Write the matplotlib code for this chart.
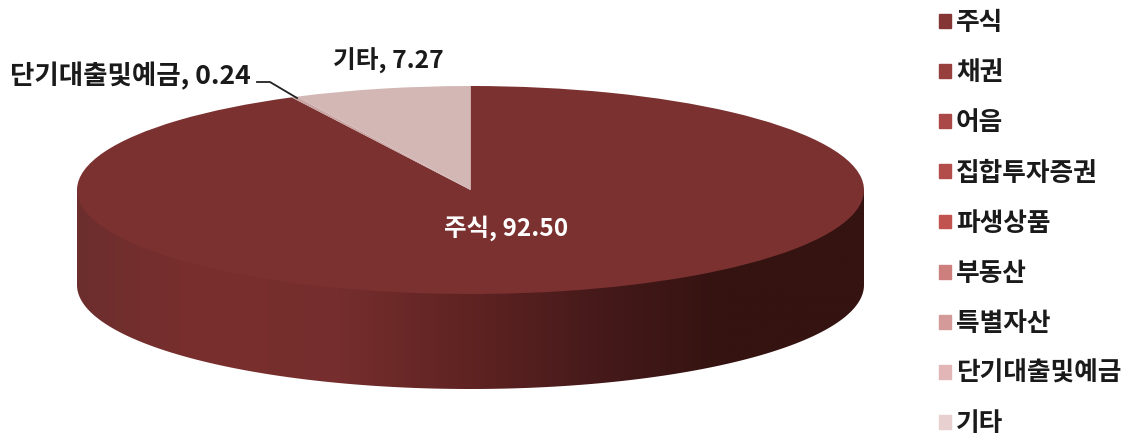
import matplotlib
matplotlib.use("Agg")
import matplotlib.pyplot as plt
import matplotlib.patches as mpatches
from matplotlib.colors import LinearSegmentedColormap
import numpy as np

plt.rcParams['font.family'] = ['Noto Sans CJK KR', 'DejaVu Sans']

categories = ['주식', '채권', '어음', '집합투자증권', '파생상품', '부동산', '특별자산', '단기대출및예금', '기타']
values = [92.50, 0, 0, 0, 0, 0, 0, 0.24, 7.27]
legend_colors = ['#843634', '#963f3d', '#a94846', '#b34d4b', '#c2544f', '#cc7f7d', '#d49a99', '#e2b6b6', '#e8cfd0']
pie_colors = ['#7b3130', '#8a3a38', '#9a4341', '#a24745', '#b04d49', '#ba7472', '#c18d8c', '#c9a5a3', '#d3b7b5']

W, H = 1130, 438
cx, cy, rx, ry, depth = 470.5, 190, 393.5, 104, 95

# pie coordinates: radius 1 stretched to the ellipse in pixels
def px(x, y):
    return (x - cx) / rx, (cy - y) / ry

fig = plt.figure(figsize=(W / 100, H / 100), dpi=100)
ax = fig.add_axes([0, 0, 1, 1])

wedges, _ = ax.pie(values, colors=pie_colors, startangle=90, counterclock=False, radius=1,
                   wedgeprops={'linewidth': 0, 'zorder': 3})
ax.set_aspect('auto')

# side wall of the pie, shaded from left to right
side_stops = [(0, '#6c2e2d'), (0.15, '#792f2e'), (0.33, '#752e2d'), (0.5, '#5f2322'),
              (0.67, '#45191a'), (0.82, '#341311'), (1, '#341311')]
side_cmap = LinearSegmentedColormap.from_list('side', side_stops)
d = depth / ry
im = ax.imshow(np.linspace(0, 1, 400).reshape(1, -1), cmap=side_cmap, extent=(-1, 1, -1 - d, 0),
               aspect='auto', zorder=1, interpolation='bilinear')
t = np.linspace(np.pi, 2 * np.pi, 300)
# top of the wall runs under the pie so no white seam shows
outline = np.column_stack([np.cos(t), np.sin(t) - d])
outline = np.vstack([outline, [[1, 0], [-1, 0]]])
clip = mpatches.Polygon(outline, closed=True, transform=ax.transData, facecolor='none', edgecolor='none')
ax.add_patch(clip)
im.set_clip_path(clip)

ax.set_xlim(px(0, 0)[0], px(W, 0)[0])
ax.set_ylim(px(0, H)[1], px(0, 0)[1])
ax.axis('off')

# data labels
ax.text(*px(506, 228), f'{categories[0]}, {values[0]:.2f}', color='white', fontsize=17.6,
        fontweight='bold', ha='center', va='center', zorder=5)
ax.text(*px(388, 61), f'{categories[8]}, {values[8]:.2f}', color='#1a1a1a', fontsize=17.8,
        fontweight='bold', ha='center', va='center', zorder=5)
ax.text(*px(130, 76), f'{categories[7]}, {values[7]:.2f}', color='#1a1a1a', fontsize=19.1,
        fontweight='bold', ha='center', va='center', zorder=5)

# leader line
lx, ly = zip(px(257, 82), px(270, 82), px(297, 98))
ax.plot(lx, ly, color='#222222', lw=1.3, zorder=4)

handles = [mpatches.Patch(color=c, label=n) for c, n in zip(legend_colors, categories)]
fig.legend(handles=handles, loc='upper left', bbox_to_anchor=(934 / W, 1 - 4 / H), frameon=False,
           handlelength=0.46, handleheight=0.46, handletextpad=0.2,
           labelspacing=0.90, borderpad=0.2, borderaxespad=0,
           prop={'size': 18.5, 'weight': 'bold'}, labelcolor='#1a1a1a')

fig.savefig('out.png', dpi=100)
